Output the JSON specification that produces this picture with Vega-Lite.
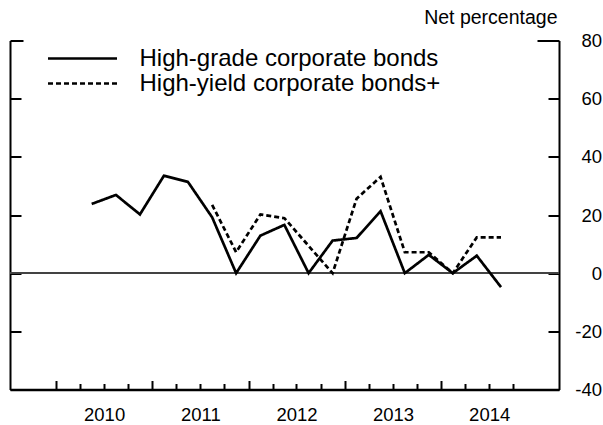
{
  "$schema": "https://vega.github.io/schema/vega-lite/v6.json",
  "width": 549,
  "height": 349,
  "autosize": {"type": "none"},
  "padding": {"left": 10, "top": 40.5, "right": 44, "bottom": 35.5},
  "background": "white",
  "config": {
    "view": {"stroke": null},
    "font": "Liberation Sans",
    "axis": {"grid": false}
  },
  "data": {
    "values": [
      {"date": "2010-05-16", "series": "High-grade corporate bonds", "value": 23.8},
      {"date": "2010-08-16", "series": "High-grade corporate bonds", "value": 26.9},
      {"date": "2010-11-15", "series": "High-grade corporate bonds", "value": 20.2},
      {"date": "2011-02-14", "series": "High-grade corporate bonds", "value": 33.5},
      {"date": "2011-05-16", "series": "High-grade corporate bonds", "value": 31.4},
      {"date": "2011-08-16", "series": "High-grade corporate bonds", "value": 19.2},
      {"date": "2011-11-15", "series": "High-grade corporate bonds", "value": 0},
      {"date": "2012-02-15", "series": "High-grade corporate bonds", "value": 12.9},
      {"date": "2012-05-16", "series": "High-grade corporate bonds", "value": 16.6},
      {"date": "2012-08-16", "series": "High-grade corporate bonds", "value": 0},
      {"date": "2012-11-15", "series": "High-grade corporate bonds", "value": 11.2},
      {"date": "2013-02-14", "series": "High-grade corporate bonds", "value": 12.1},
      {"date": "2013-05-16", "series": "High-grade corporate bonds", "value": 21.3},
      {"date": "2013-08-16", "series": "High-grade corporate bonds", "value": 0},
      {"date": "2013-11-15", "series": "High-grade corporate bonds", "value": 6.3},
      {"date": "2014-02-14", "series": "High-grade corporate bonds", "value": 0},
      {"date": "2014-05-16", "series": "High-grade corporate bonds", "value": 6.0},
      {"date": "2014-08-16", "series": "High-grade corporate bonds", "value": -4.8},
      {"date": "2011-08-16", "series": "High-yield corporate bonds+", "value": 23.5},
      {"date": "2011-11-15", "series": "High-yield corporate bonds+", "value": 7.2},
      {"date": "2012-02-15", "series": "High-yield corporate bonds+", "value": 20.2},
      {"date": "2012-05-16", "series": "High-yield corporate bonds+", "value": 18.9},
      {"date": "2012-08-16", "series": "High-yield corporate bonds+", "value": 9.4},
      {"date": "2012-11-15", "series": "High-yield corporate bonds+", "value": 0},
      {"date": "2013-02-14", "series": "High-yield corporate bonds+", "value": 25.6},
      {"date": "2013-05-16", "series": "High-yield corporate bonds+", "value": 33.1},
      {"date": "2013-08-16", "series": "High-yield corporate bonds+", "value": 7.2},
      {"date": "2013-11-15", "series": "High-yield corporate bonds+", "value": 7.2},
      {"date": "2014-02-14", "series": "High-yield corporate bonds+", "value": 0},
      {"date": "2014-05-16", "series": "High-yield corporate bonds+", "value": 12.3},
      {"date": "2014-08-16", "series": "High-yield corporate bonds+", "value": 12.3}
    ]
  },
  "layer": [
    {
      "mark": {"type": "rule", "color": "#444444", "strokeWidth": 1},
      "encoding": {
        "y": {"datum": 0, "type": "quantitative", "scale": {"domain": [-40, 80], "nice": false, "zero": false}, "axis": null}
      }
    },
    {
      "transform": [{"filter": "datum.series == 'High-grade corporate bonds'"}],
      "mark": {"type": "line", "color": "black", "strokeWidth": 2.7},
      "encoding": {
        "x": {
          "field": "date", "type": "temporal",
          "scale": {"type": "utc", "domain": [{"year": 2009, "month": 7, "date": 10, "utc": true}, {"year": 2015, "month": 3, "date": 24, "utc": true}]},
          "axis": {
            "title": null,
            "values": [
              {"year": 2010, "month": 1, "date": 1, "utc": true}, {"year": 2010, "month": 4, "date": 1, "utc": true}, {"year": 2010, "month": 7, "date": 1, "utc": true}, {"year": 2010, "month": 10, "date": 1, "utc": true},
              {"year": 2011, "month": 1, "date": 1, "utc": true}, {"year": 2011, "month": 4, "date": 1, "utc": true}, {"year": 2011, "month": 7, "date": 1, "utc": true}, {"year": 2011, "month": 10, "date": 1, "utc": true},
              {"year": 2012, "month": 1, "date": 1, "utc": true}, {"year": 2012, "month": 4, "date": 1, "utc": true}, {"year": 2012, "month": 7, "date": 1, "utc": true}, {"year": 2012, "month": 10, "date": 1, "utc": true},
              {"year": 2013, "month": 1, "date": 1, "utc": true}, {"year": 2013, "month": 4, "date": 1, "utc": true}, {"year": 2013, "month": 7, "date": 1, "utc": true}, {"year": 2013, "month": 10, "date": 1, "utc": true},
              {"year": 2014, "month": 1, "date": 1, "utc": true}, {"year": 2014, "month": 4, "date": 1, "utc": true}, {"year": 2014, "month": 7, "date": 1, "utc": true}, {"year": 2014, "month": 10, "date": 1, "utc": true}
            ],
            "tickSize": {"condition": {"test": "utcmonth(datum.value) == 0", "value": -9}, "value": -6},
            "tickWidth": 2,
            "tickColor": "black",
            "domainColor": "black",
            "domainWidth": 2.5,
            "labelExpr": "utcmonth(datum.value) == 0 ? utcFormat(datum.value, '%Y') : ''",
            "labelOffset": 48,
            "labelPadding": 25,
            "labelFontSize": 18.5,
            "labelColor": "black",
            "labelFlush": false,
            "labelOverlap": false
          }
        },
        "y": {
          "field": "value", "type": "quantitative",
          "scale": {"domain": [-40, 80], "nice": false, "zero": false},
          "axis": {
            "orient": "left",
            "title": null,
            "values": [-40, -20, 0, 20, 40, 60, 80],
            "labels": false,
            "tickSize": {"condition": {"test": "datum.value == 80", "value": -13}, "value": -11},
            "tickWidth": 2,
            "tickColor": "black",
            "domainColor": "black",
            "domainWidth": 2
          }
        },
        "strokeDash": {
          "field": "series", "type": "nominal",
          "scale": {"domain": ["High-grade corporate bonds", "High-yield corporate bonds+"], "range": [[1, 0], [5, 3]]},
          "legend": {
            "title": null, "orient": "none", "legendX": 59.5, "legendY": 5,
            "symbolType": "M-3,0H3", "symbolSize": 529, "symbolStrokeWidth": 2.7, "symbolStrokeColor": "black", "symbolFillColor": "transparent",
            "labelFontSize": 24, "labelColor": "black", "labelOffset": 44, "labelLimit": 0,
            "rowPadding": -5, "padding": 0
          }
        }
      }
    },
    {
      "transform": [{"filter": "datum.series == 'High-yield corporate bonds+'"}],
      "mark": {"type": "line", "color": "black", "strokeWidth": 2.7},
      "encoding": {
        "x": {
          "field": "date", "type": "temporal",
          "scale": {"type": "utc", "domain": [{"year": 2009, "month": 7, "date": 10, "utc": true}, {"year": 2015, "month": 3, "date": 24, "utc": true}]},
          "axis": {
            "title": null,
            "values": [
              {"year": 2010, "month": 1, "date": 1, "utc": true}, {"year": 2010, "month": 4, "date": 1, "utc": true}, {"year": 2010, "month": 7, "date": 1, "utc": true}, {"year": 2010, "month": 10, "date": 1, "utc": true},
              {"year": 2011, "month": 1, "date": 1, "utc": true}, {"year": 2011, "month": 4, "date": 1, "utc": true}, {"year": 2011, "month": 7, "date": 1, "utc": true}, {"year": 2011, "month": 10, "date": 1, "utc": true},
              {"year": 2012, "month": 1, "date": 1, "utc": true}, {"year": 2012, "month": 4, "date": 1, "utc": true}, {"year": 2012, "month": 7, "date": 1, "utc": true}, {"year": 2012, "month": 10, "date": 1, "utc": true},
              {"year": 2013, "month": 1, "date": 1, "utc": true}, {"year": 2013, "month": 4, "date": 1, "utc": true}, {"year": 2013, "month": 7, "date": 1, "utc": true}, {"year": 2013, "month": 10, "date": 1, "utc": true},
              {"year": 2014, "month": 1, "date": 1, "utc": true}, {"year": 2014, "month": 4, "date": 1, "utc": true}, {"year": 2014, "month": 7, "date": 1, "utc": true}, {"year": 2014, "month": 10, "date": 1, "utc": true}
            ],
            "tickSize": {"condition": {"test": "utcmonth(datum.value) == 0", "value": -9}, "value": -6},
            "tickWidth": 2,
            "tickColor": "black",
            "domainColor": "black",
            "domainWidth": 2.5,
            "labelExpr": "utcmonth(datum.value) == 0 ? utcFormat(datum.value, '%Y') : ''",
            "labelOffset": 48,
            "labelPadding": 25,
            "labelFontSize": 18.5,
            "labelColor": "black",
            "labelFlush": false,
            "labelOverlap": false
          }
        },
        "y": {
          "field": "value", "type": "quantitative",
          "scale": {"domain": [-40, 80], "nice": false, "zero": false},
          "axis": {
            "orient": "right",
            "title": "Net percentage",
            "titleAngle": 0,
            "titleAlign": "right",
            "titleBaseline": "alphabetic",
            "titleX": -2,
            "titleY": -17.2,
            "titleFontSize": 19.5,
            "titleFontWeight": "normal",
            "titleColor": "black",
            "values": [-40, -20, 0, 20, 40, 60, 80],
            "tickSize": {"condition": {"test": "datum.value == 80", "value": -22}, "value": -11},
            "tickWidth": 2,
            "tickColor": "black",
            "domainColor": "black",
            "domainWidth": 2,
            "labelPadding": {"condition": {"test": "datum.value == 80", "value": 64.5}, "value": 53.5},
            "labelAlign": "right",
            "labelBaseline": "middle",
            "labelFontSize": 18.5,
            "labelColor": "black",
            "labelExpr": "datum.value == 0 ? '0\u00a0' : '' + datum.value",
            "labelFlush": false,
            "labelOverlap": false
          }
        },
        "strokeDash": {
          "field": "series", "type": "nominal",
          "scale": {"domain": ["High-grade corporate bonds", "High-yield corporate bonds+"], "range": [[1, 0], [5, 3]]},
          "legend": {
            "title": null, "orient": "none", "legendX": 59.5, "legendY": 5,
            "symbolType": "M-3,0H3", "symbolSize": 529, "symbolStrokeWidth": 2.7, "symbolStrokeColor": "black", "symbolFillColor": "transparent",
            "labelFontSize": 24, "labelColor": "black", "labelOffset": 44, "labelLimit": 0,
            "rowPadding": -5, "padding": 0
          }
        }
      }
    }
  ],
  "resolve": {"axis": {"y": "independent"}}
}
